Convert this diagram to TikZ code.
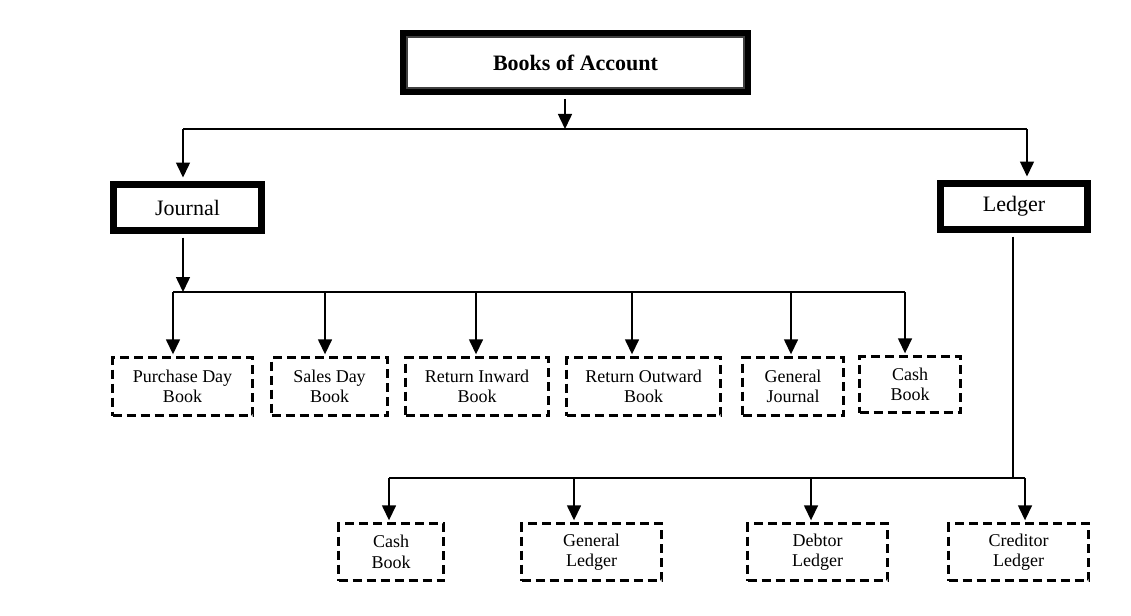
\documentclass[tikz,border=0pt]{standalone}
\usepackage{fontspec}
\setmainfont{Liberation Serif}
\usetikzlibrary{arrows.meta}
\begin{document}
\begin{tikzpicture}[x=1pt,y=-1pt,
  ln/.style={line width=1.5pt},
  arr/.style={line width=1.5pt,-{Triangle[width=14pt,length=15pt]}},
  mainbox/.style={draw,line width=7pt,inner sep=0pt,minimum height=46pt,
    font=\fontsize{22}{26}\selectfont},
  subbox/.style={draw,line width=3.2pt,dash pattern=on 9pt off 5pt,inner sep=0pt,
    align=center,minimum height=58pt,font=\fontsize{18}{20.5}\selectfont}]
\useasboundingbox (0,0) rectangle (1131,615);
% top
\node[draw,line width=8pt,minimum width=343pt,minimum height=57pt,inner sep=0pt,
  font=\bfseries\fontsize{22}{26}\selectfont] (boa) at (575.5,62.5) {Books of Account};
\draw[line width=1.8pt,black!75] ([xshift=7pt,yshift=-7pt]boa.north west) rectangle ([xshift=-7pt,yshift=7pt]boa.south east);
% level 2
\node[mainbox,minimum width=148pt] (jour) at (187.5,207.5) {Journal};
\node[mainbox,minimum width=147pt] (ledg) at (1014,206.5) {Ledger};
% row 1
\node[subbox,minimum width=140pt] (pdb) at (182.5,386.5) {Purchase Day\\Book};
\node[subbox,minimum width=116pt] (sdb) at (329.5,386.5) {Sales Day\\Book};
\node[subbox,minimum width=143pt] (rib) at (477,386.5) {Return Inward\\Book};
\node[subbox,minimum width=154pt] (rob) at (643.5,386.5) {Return Outward\\Book};
\node[subbox,minimum width=101pt] (gj) at (793,386.5) {General\\Journal};
\node[subbox,minimum width=101pt,minimum height=56pt] (cb) at (910,384.5) {Cash\\Book};
% row 2
\node[subbox,minimum width=105pt,minimum height=57pt] (cb2) at (391,552) {Cash\\Book};
\node[subbox,minimum width=140pt,minimum height=57pt] (gl) at (591.5,552) {General\\Ledger};
\node[subbox,minimum width=140pt,minimum height=57pt] (dl) at (817.5,552) {Debtor\\Ledger};
\node[subbox,minimum width=140pt,minimum height=57pt] (cl) at (1018.5,552) {Creditor\\Ledger};
% connectors top
\coordinate (t1) at (565,129);
\coordinate (tl) at (183,129);
\coordinate (tr) at (1027,129);
\draw[arr,shorten <=4pt] (boa.south -| t1) -- (t1);
\draw[ln] (tl) -- (tr);
\draw[arr,shorten >=3.5pt] (tl) -- (tl |- jour.north);
\draw[arr,shorten >=3.5pt] (tr) -- (tr |- ledg.north);
% journal
\coordinate (j1) at (183,292);
\coordinate (jl) at (173,292);
\coordinate (jr) at (905,292);
\draw[arr,shorten <=3.5pt] (jour.south -| j1) -- (j1);
\draw[ln] (jl) -- (jr);
\foreach \n/\x in {pdb/173,sdb/325,rib/476,rob/632,gj/791,cb/905}{
  \coordinate (a\n) at (\x,292);
  \draw[arr,shorten >=1.6pt] (a\n) -- (a\n |- \n.north);
}
% ledger
\coordinate (l1) at (1013,478);
\coordinate (ll) at (389,478);
\coordinate (lr) at (1025,478);
\draw[ln,shorten <=3.5pt] (ledg.south -| l1) -- (l1);
\draw[ln] (ll) -- (lr);
\foreach \n/\x in {cb2/389,gl/574,dl/811,cl/1025}{
  \coordinate (b\n) at (\x,478);
  \draw[arr,shorten >=1.6pt] (b\n) -- (b\n |- \n.north);
}
\end{tikzpicture}
\end{document}
